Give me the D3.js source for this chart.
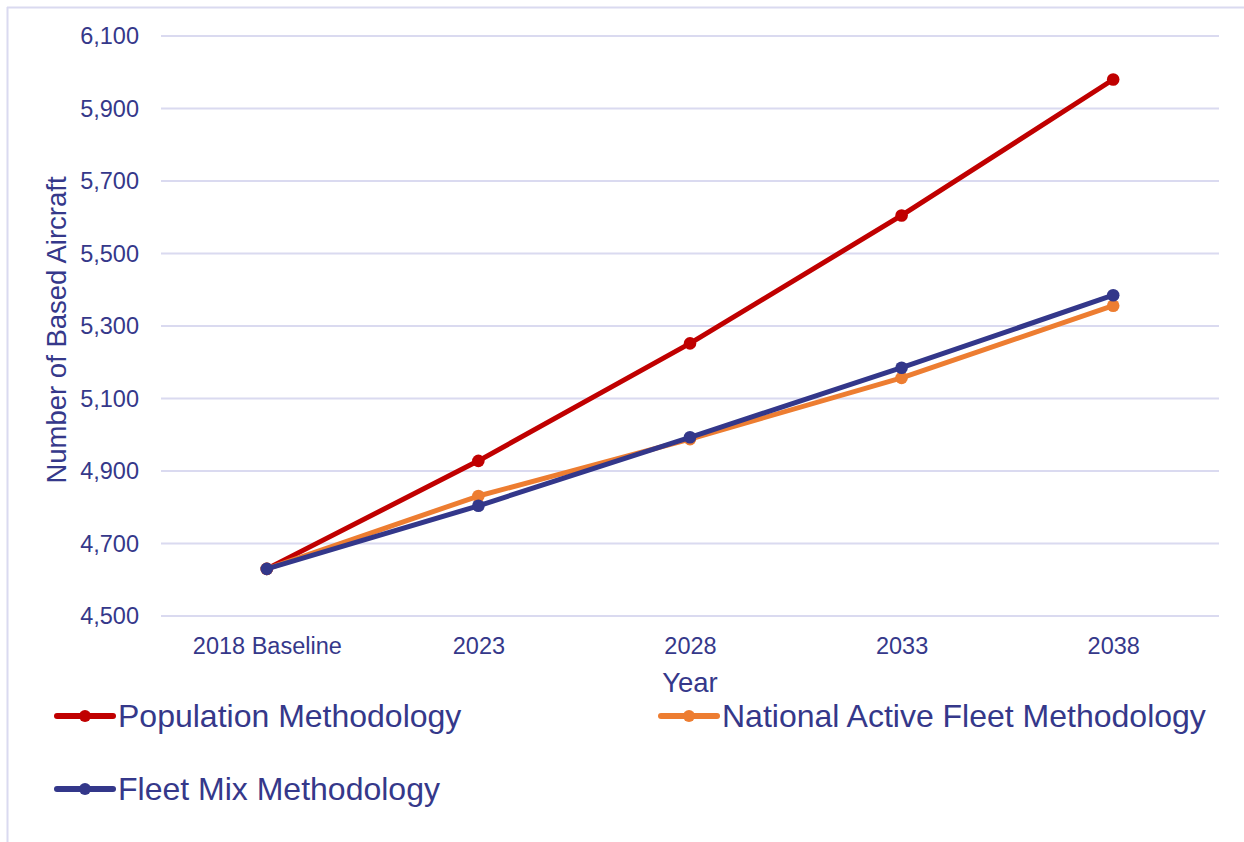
<!DOCTYPE html>
<html>
<head>
<meta charset="utf-8">
<script src="https://cdn.jsdelivr.net/npm/d3@7"></script>
<style>
  html, body { margin: 0; padding: 0; background: #fff; }
  svg { display: block; font-family: "Liberation Sans", Arial, sans-serif; }
</style>
</head>
<body>
<svg id="chart" width="1244" height="842"></svg>
<script>
const categories = ["2018 Baseline", "2023", "2028", "2033", "2038"];
const seriesNames = ["Population Methodology", "National Active Fleet Methodology", "Fleet Mix Methodology"];
const populationValues = [4630, 4928, 5252, 5605, 5980];
const nationalFleetValues = [4630, 4831, 4988, 5157, 5356];
const fleetMixValues = [4630, 4804, 4993, 5185, 5385];
const yTicks = [4500, 4700, 4900, 5100, 5300, 5500, 5700, 5900, 6100];
const seriesColors = ["#C00000", "#ED7D31", "#33378A"];

const series = [
  { name: seriesNames[0], values: populationValues, color: seriesColors[0] },
  { name: seriesNames[1], values: nationalFleetValues, color: seriesColors[1] },
  { name: seriesNames[2], values: fleetMixValues, color: seriesColors[2] }
];

const textColor = "#35388A";
const gridColor = "#DADAF0";

const svg = d3.select("#chart");

// outer frame (top and left edges visible)
svg.append("line").attr("x1", 7).attr("x2", 1244).attr("y1", 7.5).attr("y2", 7.5)
  .attr("stroke", gridColor).attr("stroke-width", 2);
svg.append("line").attr("x1", 7.5).attr("x2", 7.5).attr("y1", 7).attr("y2", 842)
  .attr("stroke", gridColor).attr("stroke-width", 2);

const x = d3.scalePoint().domain(categories).range([161, 1219]).padding(0.5);
const y = d3.scaleLinear().domain([4500, 6100]).range([616, 36]);

// grid lines
svg.append("g").selectAll("line").data(yTicks).join("line")
  .attr("x1", 161).attr("x2", 1219)
  .attr("y1", d => y(d)).attr("y2", d => y(d))
  .attr("stroke", gridColor).attr("stroke-width", 2);

// y axis
const yAxis = svg.append("g").attr("transform", "translate(161,0)")
  .call(d3.axisLeft(y).tickValues(yTicks).tickFormat(d3.format(",")).tickSize(0).tickPadding(22));
yAxis.select(".domain").remove();
yAxis.selectAll("text").attr("fill", textColor).attr("font-size", 23.5)
  .attr("font-family", "\"Liberation Sans\", Arial, sans-serif");

// x axis
const xAxis = svg.append("g").attr("transform", "translate(0,616)")
  .call(d3.axisBottom(x).tickSize(0).tickPadding(21));
xAxis.select(".domain").remove();
xAxis.selectAll("text").attr("fill", textColor).attr("font-size", 23.5)
  .attr("font-family", "\"Liberation Sans\", Arial, sans-serif");

// axis titles
svg.append("text").attr("x", 690).attr("y", 692).attr("text-anchor", "middle")
  .attr("fill", textColor).attr("font-size", 27.5).text("Year");
svg.append("text").attr("transform", "translate(56,330) rotate(-90)")
  .attr("text-anchor", "middle").attr("dominant-baseline", "central")
  .attr("fill", textColor).attr("font-size", 27.5).text("Number of Based Aircraft");

// lines and markers
const line = d3.line().x((d, i) => x(categories[i])).y(d => y(d));
const g = svg.append("g");
series.forEach(s => {
  g.append("path").datum(s.values).attr("d", line)
    .attr("fill", "none").attr("stroke", s.color).attr("stroke-width", 5)
    .attr("stroke-linejoin", "round");
  g.append("g").selectAll("circle").data(s.values).join("circle")
    .attr("cx", (d, i) => x(categories[i])).attr("cy", d => y(d))
    .attr("r", 6.3).attr("fill", s.color);
});

// legend
const legendPos = [
  { lx: 57, ly: 716 },
  { lx: 661, ly: 716 },
  { lx: 57, ly: 789 }
];
series.forEach((s, i) => {
  const p = legendPos[i];
  const lg = svg.append("g").attr("transform", `translate(${p.lx},${p.ly})`);
  lg.append("line").attr("x1", 0).attr("x2", 56).attr("y1", 0).attr("y2", 0)
    .attr("stroke", s.color).attr("stroke-width", 6).attr("stroke-linecap", "round");
  lg.append("circle").attr("cx", 28).attr("cy", 0).attr("r", 6).attr("fill", s.color);
  lg.append("text").attr("x", 61).attr("y", 11).attr("fill", textColor)
    .attr("font-size", 32).text(s.name);
});
</script>
</body>
</html>
